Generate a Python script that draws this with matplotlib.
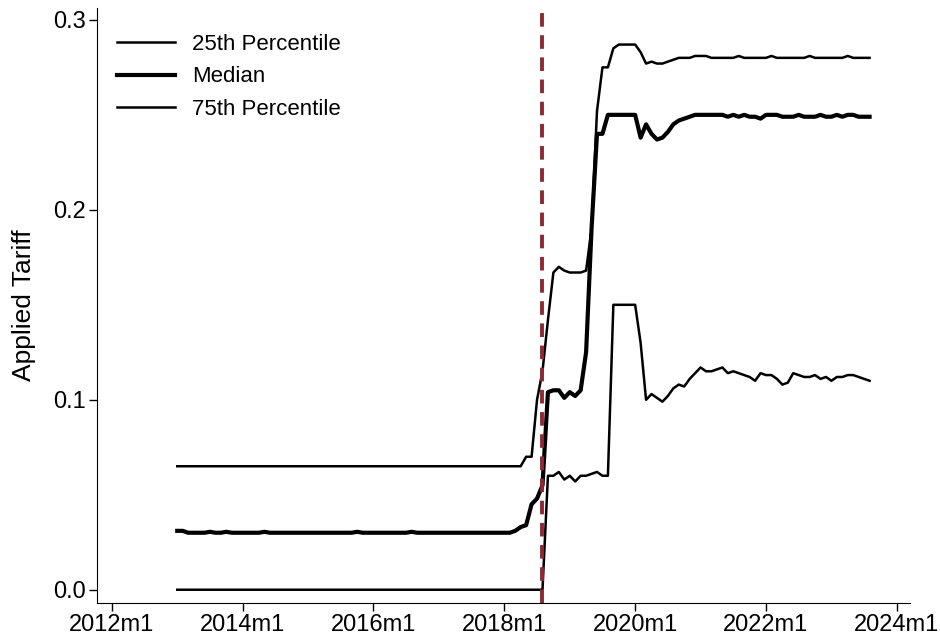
import matplotlib
matplotlib.use("Agg")
import matplotlib.pyplot as plt

plt.rcParams['font.family'] = ['Liberation Sans', 'DejaVu Sans']

# months indexed from 2012m1 = 0; data from 2013m1 (12) to 2023m8 (139)
start_month = 12
p75 = ([0.065] * 64 +
       [0.07, 0.07, 0.10, 0.115, 0.142, 0.167, 0.170, 0.168, 0.167, 0.167, 0.167, 0.168,
        0.19, 0.252, 0.275, 0.275, 0.285, 0.287, 0.287, 0.287, 0.287, 0.283, 0.277, 0.278,
        0.277, 0.277, 0.278, 0.279, 0.280, 0.280, 0.280, 0.281, 0.281, 0.281, 0.280, 0.280,
        0.280, 0.280, 0.280, 0.281, 0.280, 0.280, 0.280, 0.280, 0.280, 0.281, 0.280, 0.280,
        0.280, 0.280, 0.280, 0.280, 0.281, 0.280, 0.280, 0.280, 0.280, 0.280, 0.280, 0.281,
        0.280, 0.280, 0.280, 0.280])
median = ([0.031, 0.031, 0.030, 0.030, 0.030, 0.030, 0.0305, 0.030, 0.030, 0.0305, 0.030, 0.030,
           0.030, 0.030, 0.030, 0.030, 0.0305, 0.030, 0.030, 0.030, 0.030, 0.030, 0.030, 0.030,
           0.030, 0.030, 0.030, 0.030, 0.030, 0.030, 0.030, 0.030, 0.030, 0.0305, 0.030, 0.030,
           0.030, 0.030, 0.030, 0.030, 0.030, 0.030, 0.030, 0.0305, 0.030, 0.030, 0.030, 0.030,
           0.030, 0.030, 0.030, 0.030, 0.030, 0.030, 0.030, 0.030, 0.030, 0.030, 0.030, 0.030,
           0.030, 0.030] +
          [0.031, 0.033, 0.034, 0.045, 0.048, 0.055, 0.104, 0.105, 0.105, 0.101, 0.104, 0.102,
           0.105, 0.125, 0.19, 0.240, 0.240, 0.250, 0.250, 0.250, 0.250, 0.250, 0.250, 0.238,
           0.245, 0.240, 0.237, 0.238, 0.241, 0.245, 0.247, 0.248, 0.249, 0.250, 0.250, 0.250,
           0.250, 0.250, 0.250, 0.249, 0.250, 0.249, 0.250, 0.249, 0.249, 0.248, 0.250, 0.250,
           0.250, 0.249, 0.249, 0.249, 0.250, 0.249, 0.249, 0.249, 0.250, 0.249, 0.249, 0.250,
           0.249, 0.250, 0.250, 0.249, 0.249, 0.249])
p25 = ([0.0] * 68 +
       [0.060, 0.060, 0.062, 0.058, 0.060, 0.057, 0.060, 0.060, 0.061, 0.062, 0.060, 0.060,
        0.150, 0.150, 0.150, 0.150, 0.150, 0.130, 0.100, 0.103, 0.101, 0.099, 0.102, 0.106,
        0.108, 0.107, 0.111, 0.114, 0.117, 0.115, 0.115, 0.116, 0.117, 0.114, 0.115, 0.114,
        0.113, 0.112, 0.110, 0.114, 0.113, 0.113, 0.111, 0.108, 0.109, 0.114, 0.113, 0.112,
        0.112, 0.113, 0.111, 0.112, 0.110, 0.112, 0.112, 0.113, 0.113, 0.112, 0.111, 0.110])
event_month = 79
tick_months = [0, 24, 48, 72, 96, 120, 144]
tick_labels = ["2012m1", "2014m1", "2016m1", "2018m1", "2020m1", "2022m1", "2024m1"]

fig = plt.figure(figsize=(9.4, 6.42), dpi=100)
ax = fig.add_axes([0.103, 0.0607, 0.865, 0.927])
x = list(range(start_month, start_month + len(median)))
ax.plot(x, p25, color='black', lw=1.8, label='25th Percentile')
ax.plot(x, median, color='black', lw=3.0, label='Median')
ax.plot(x, p75, color='black', lw=1.8, label='75th Percentile')
ax.axvline(event_month, color='#8B2A35', lw=2.8, ls=(0, (3.5, 2.2)))

ax.set_xlim(-2.75, 146.4)
ax.set_ylim(-0.007, 0.3063)
ax.set_xticks(tick_months)
ax.set_xticklabels(tick_labels)
ax.set_yticks([0, 0.1, 0.2, 0.3])
ax.set_yticklabels(["0.0", "0.1", "0.2", "0.3"])
ax.tick_params(labelsize=17, length=6, width=1, pad=2)
ax.set_ylabel("Applied Tariff", fontsize=19, labelpad=12)
for s in ['top', 'right']:
    ax.spines[s].set_visible(False)
leg = ax.legend(loc='upper left', frameon=False, fontsize=16, handlelength=2.6,
                bbox_to_anchor=(0.0, 0.99), labelspacing=0.52, handletextpad=0.8)
fig.savefig("out.png", dpi=100)
